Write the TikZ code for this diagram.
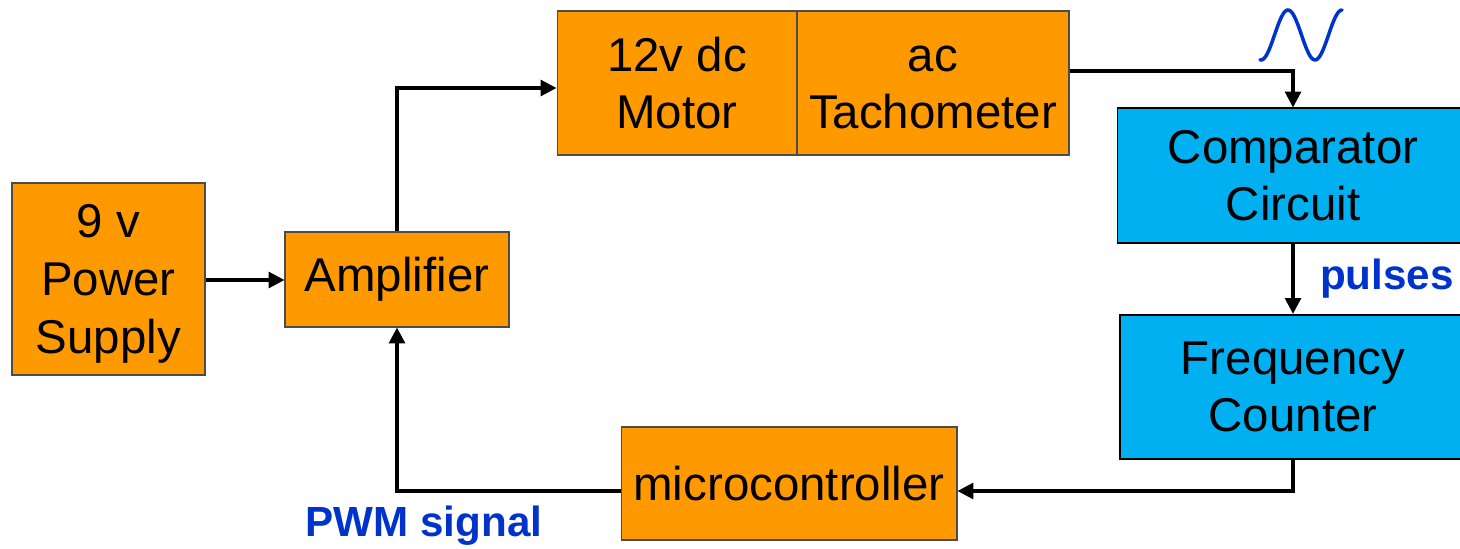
\documentclass[tikz,border=0pt]{standalone}
\usepackage{fontspec}
\setmainfont{Liberation Sans}
\usetikzlibrary{arrows.meta,calc}
\definecolor{boxorange}{HTML}{FF9900}
\definecolor{boxblue}{HTML}{00B0F0}
\definecolor{labelblue}{HTML}{0033CC}
\tikzset{
  obox/.style={draw=black!70, line width=0.6pt, fill=boxorange, align=center, inner sep=0pt,
    font=\fontsize{27}{32.5}\selectfont},
  bbox/.style={draw=black, line width=0.6pt, fill=boxblue, align=center, inner sep=0pt,
    font=\fontsize{27}{32.5}\selectfont},
  arr/.style={line width=1.8pt, -{Triangle[length=9pt,width=9pt]}},
  lbl/.style={text=labelblue, font=\fontsize{24}{28}\selectfont\bfseries, inner sep=0pt}
}
\begin{document}
\begin{tikzpicture}[x=0.02cm,y=-0.02cm]
\useasboundingbox (0,0) rectangle (1460,548);
\clip (0,0) rectangle (1460,548);
\node[obox, minimum width=3.86cm, minimum height=3.84cm,
  label={[align=center, inner sep=0pt, font=\fontsize{27}{33}\selectfont, yshift=-2.5pt]center:9 v\\Power\\Supply}] (power) at (108.5,279) {};
\node[obox, minimum width=4.48cm, minimum height=1.9cm] (amp) at (397,279.5) {Amplifier};
\node[obox, minimum width=4.8cm, minimum height=2.88cm] (motor) at (677,83) {12v dc\\Motor};
\node[obox, minimum width=5.44cm, minimum height=2.88cm] (tach) at (933,83) {\vphantom{12v dc}ac\\Tachometer};
\node[bbox, minimum width=7.04cm, minimum height=2.7cm] (comp) at (1293,175.5) {Comparator\\Circuit};
\node[bbox, line width=1.3pt, minimum width=6.92cm, minimum height=2.88cm] (freq) at (1293,387) {Frequency\\Counter};
\node[obox, minimum width=6.72cm, minimum height=2.26cm] (micro) at (789,483.5) {microcontroller};
\node[lbl] (pulses) at (1387,279) {pulses};
\node[lbl] (pwm) at (424,526) {PWM signal};
\draw[labelblue, line width=2pt, line cap=round] plot[domain=0:82, samples=60, smooth]
  ({1260+\x},{35-25*cos(6.6667*(\x-28))});
\draw[arr] (power.east |- 0,280) -- (amp.west |- 0,280);
\draw[arr] (amp.north) |- ($(motor.west)+(0,5)$);
\draw[arr] ($(tach.east)+(0,-12)$) -| (comp.north);
\draw[arr] (comp.south) -- (freq.north);
\draw[arr] (freq.south) |- ($(micro.east)+(0,7.5)$);
\draw[arr] ($(micro.west)+(0,7.5)$) -| (amp.south);
\end{tikzpicture}
\end{document}
